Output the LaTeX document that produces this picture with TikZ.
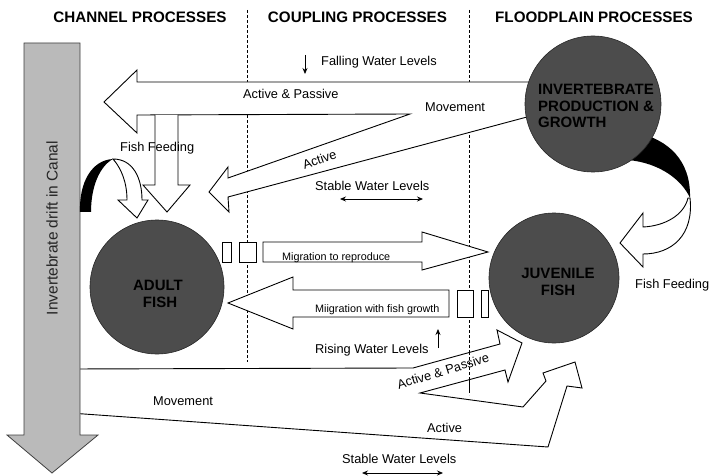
\documentclass[tikz,border=0pt]{standalone}
\usepackage{fontspec}
\setmainfont{Liberation Sans}
\usetikzlibrary{arrows.meta}
\begin{document}
\begin{tikzpicture}[x=1pt,y=-1pt]
\tikzset{
 shp/.style={draw=black, line width=0.9pt, fill=white, line join=miter},
 lbl/.style={font=\fontsize{12.8}{15}\selectfont, inner sep=0pt},
 mig/.style={font=\fontsize{10.8}{13}\selectfont, inner sep=0pt},
 hdr/.style={font=\bfseries\fontsize{15.2}{18}\selectfont, inner sep=0pt},
 disc/.style={circle, fill=black!70, draw=black!85, line width=0.6pt, inner sep=0pt},
 disctxt/.style={font=\bfseries\fontsize{15}{17}\selectfont, text=black, inner sep=0pt},
 sepline/.style={dash pattern=on 3pt off 2pt, line width=0.6pt},
 tipline/.style={-{Stealth[length=6pt,width=5pt]}, line width=0.8pt},
 dtipline/.style={{Stealth[length=6pt,width=5pt]}-{Stealth[length=6pt,width=5pt]}, line width=0.8pt},
}
\useasboundingbox (0,0) rectangle (710,476);
\fill[white] (0,0) rectangle (710,476);

% column separators
\draw[sepline] (247,10) -- (247,362);
\draw[sepline] (469,10) -- (469,395);

% headers
\node[hdr] (h1) at (140,17.5) {CHANNEL PROCESSES};
\node[hdr] (h2) at (357.5,17.5) {COUPLING PROCESSES};
\node[hdr] (h3) at (594,17.5) {FLOODPLAIN PROCESSES};

% upper merged arrow (Active & Passive / Active)
\filldraw[shp] (560,82) -- (137,82) -- (137,70) -- (104,102) -- (137,133) -- (137,115)
  -- (410,114) -- (228,178) -- (228,167) -- (209,192) -- (229,212) -- (228,197)
  -- (555,109.5) -- cycle;
% fish feeding straight arrow
\filldraw[shp] (155,115) -- (155,185) -- (143,185) -- (167,212) -- (190,185) -- (178,185) -- (178,115);

% lower merged arrow (Movement / Active & Passive / Active)
\filldraw[shp] (70,369) -- (413,368) -- (500,344) -- (497,330) -- (522,343) -- (508,382)
  -- (505,370) -- (420,393) -- (523,407) -- (546,381) -- (543,373) -- (575,362)
  -- (582,388) -- (567,386) -- (548,447) -- (70,413) -- cycle;

% invertebrate drift arrow
\filldraw[fill=black!27, draw=black!75, line width=0.8pt] (24,43) -- (80,43) -- (80,435)
  -- (98,435) -- (52,473) -- (7,435) -- (24,435) -- cycle;
\node[font=\fontsize{15.5}{18}\selectfont, rotate=90, text=black!85, inner sep=0pt] (drift) at (52,228) {Invertebrate drift in Canal};

% left curved feeding arrow
\fill[black] (80,212) .. controls (79,182) and (92,160) .. (113,159)
  .. controls (100,166) and (91,186) .. (91,212) -- cycle;
\filldraw[shp] (113,159) .. controls (133,159) and (142,178) .. (142,200) -- (148,200)
  -- (137,218) -- (118,200) -- (127,200) .. controls (127,182) and (121,168) .. (113,159) -- cycle;

% right curved feeding arrow
\fill[black] (638,133) .. controls (668,140) and (691,160) .. (690,198)
  .. controls (682,180) and (660,163) .. (628,160) -- cycle;
\filldraw[shp] (690,198) .. controls (694,235) and (672,254) .. (643,254) -- (643,267)
  -- (620,243) -- (643,213) -- (643,227) .. controls (665,226) and (684,215) .. (688,198) -- cycle;

% migration arrows
\filldraw[shp] (222,242) rectangle (231,262);
\filldraw[shp] (239,242) rectangle (256,262);
\filldraw[shp] (263,242) -- (422,242) -- (422,232) -- (488,252) -- (422,270) -- (422,262) -- (263,262) -- cycle;
\filldraw[shp] (449,290) -- (293,290) -- (293,277) -- (228,303) -- (293,329) -- (293,317) -- (449,317) -- cycle;
\filldraw[shp] (457,290) rectangle (473,317);
\filldraw[shp] (481,290) rectangle (488,317);

\draw[sepline] (469,352) -- (469,393);

% circles
\node[disc, minimum size=136pt] (inv) at (593,104) {};
\node[disctxt, anchor=base west] (inv1) at (538,95) {INVERTEBRATE};
\node[disctxt, anchor=base west] (inv2) at (538,112) {PRODUCTION \&};
\node[disctxt, anchor=base west] (inv3) at (538,128) {GROWTH};

\node[disc, minimum size=134pt] (adult) at (157,287) {};
\node[disctxt] (ad1) at (158,285) {ADULT};
\node[disctxt] (ad2) at (160,302) {FISH};

\node[disc, minimum size=130pt] (juv) at (554,278) {};
\node[disctxt] (jv1) at (558,273) {JUVENILE};
\node[disctxt] (jv2) at (558,290) {FISH};

% labels
\coordinate (fa) at (305,55); \coordinate (fb) at (305,74);
\draw[tipline] (fa) -- (fb);
\node[lbl, anchor=base west] (fall) at (321,66) {Falling Water Levels};
\node[lbl, anchor=base west] (ap1) at (243,99) {Active \& Passive};
\node[lbl, anchor=base west] (mv1) at (425,112) {Movement};
\node[lbl, anchor=base west] (ff1) at (120,152) {Fish Feeding};
\node[lbl, rotate=19] (act1) at (319.5,159.5) {Active};
\node[lbl, anchor=base west] (st1) at (315,190) {Stable Water Levels};
\coordinate (s1a) at (340,199); \coordinate (s1b) at (423,199);
\draw[dtipline] (s1a) -- (s1b);
\node[mig, anchor=base west] (m1) at (282,260) {Migration to reproduce};
\node[mig, anchor=base west] (m2) at (315,312) {Miigration with fish growth};
\node[lbl, anchor=base west] (ff2) at (635,288) {Fish Feeding};
\node[lbl, anchor=base west] (rise) at (315,353) {Rising Water Levels};
\coordinate (ra) at (438,348); \coordinate (rb) at (438,329);
\draw[tipline] (ra) -- (rb);
\node[lbl, rotate=17] (ap2) at (443,371) {Active \& Passive};
\node[lbl, anchor=base west] (act2) at (427,432) {Active};
\node[lbl, anchor=base west] (mv2) at (153,405) {Movement};
\node[lbl, anchor=base west] (st2) at (342,463) {Stable Water Levels};
\coordinate (s2a) at (362,473); \coordinate (s2b) at (443,473);
\draw[dtipline] (s2a) -- (s2b);
\end{tikzpicture}
\end{document}
